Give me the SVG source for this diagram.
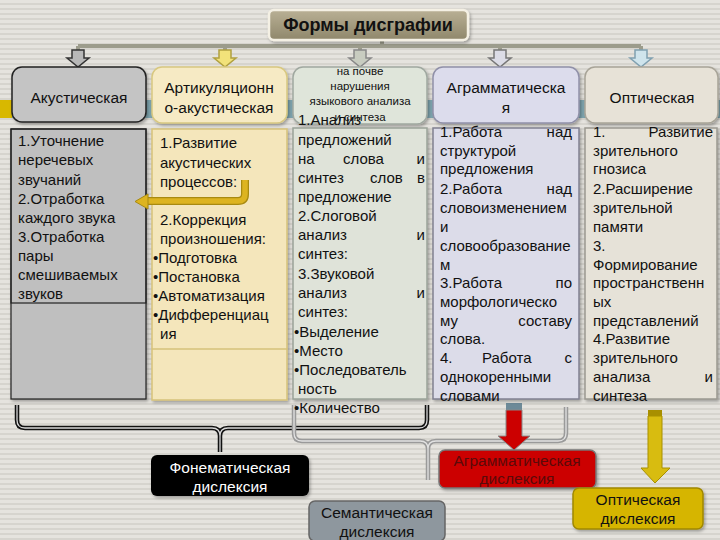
<svg xmlns="http://www.w3.org/2000/svg" width="720" height="540" viewBox="0 0 720 540">
<defs>
<pattern id="stripes" width="8" height="5" patternUnits="userSpaceOnUse">
<rect width="8" height="5" fill="#e5e3de"/>
<rect y="3" width="8" height="2" fill="#d6d4ce"/>
</pattern>
<linearGradient id="titleG" x1="0" y1="0" x2="0" y2="1">
<stop offset="0" stop-color="#b9b095"/>
<stop offset="1" stop-color="#8f876b"/>
</linearGradient>
<filter id="sh" x="-10%" y="-10%" width="130%" height="130%">
<feDropShadow dx="1.5" dy="2" stdDeviation="1.5" flood-color="#000" flood-opacity="0.3"/>
</filter>
<style>
.t{font-family:"Liberation Sans",Arial,sans-serif;font-size:15px;fill:#111}
.h{font-family:"Liberation Sans",Arial,sans-serif;font-size:15.5px;fill:#111;text-anchor:middle}
.s{font-family:"Liberation Sans",Arial,sans-serif;font-size:11.5px;fill:#111;text-anchor:middle}
.e{text-anchor:end}
.b{font-family:"Liberation Sans",Arial,sans-serif;font-size:15.5px;text-anchor:middle}
.arr{stroke-width:1.5;stroke-linejoin:miter}
</style>
</defs>
<rect width="720" height="540" fill="url(#stripes)"/>

<!-- band behind header row -->
<rect x="0" y="100" width="12" height="18" fill="#d8b800"/>
<rect x="12" y="100" width="708" height="18" fill="#7fa6b0"/>

<!-- connectors -->
<g id="connectors">
<path d="M382 40 V46 M78 46 H641 M78 46 V51 M225 46 V51 M360 46 V51 M500 46 V51 M641 46 V51" fill="none" stroke="#9c9c8c" stroke-width="4"/>
<path class="arr" d="M72 50 H84 V58 H89 L78 67 L67 58 H72 Z" fill="#b8b8b8" stroke="#333"/>
<path class="arr" d="M219 50 H231 V58 H236 L225 67 L214 58 H219 Z" fill="#f2e27a" stroke="#b0a040"/>
<path class="arr" d="M354 50 H366 V58 H371 L360 67 L349 58 H354 Z" fill="#c8ccc0" stroke="#888"/>
<path class="arr" d="M494 50 H506 V58 H511 L500 67 L489 58 H494 Z" fill="#dcdce6" stroke="#777"/>
<path class="arr" d="M635 50 H647 V58 H652 L641 67 L630 58 H635 Z" fill="#cfe4ec" stroke="#80a0b0"/>
<!-- braces -->
<path d="M17 405 V420 Q17 428 25 428 H212 Q220 428 220 436 V452 M220 436 Q220 428 228 428 H419 Q427 428 427 420 V405" fill="none" stroke="#111" stroke-width="4.5"/>
<path d="M17 405 V420 Q17 428 25 428 H212 Q220 428 220 436 V452 M220 436 Q220 428 228 428 H419 Q427 428 427 420 V405" fill="none" stroke="#d8d8d8" stroke-width="1.3"/>
<path d="M294 405 V433 Q294 441 302 441 H420 Q428 441 428 449 V480 M428 449 Q428 441 436 441 H558 Q566 441 566 433 V407" fill="none" stroke="#9a9a9a" stroke-width="4.5"/>
<path d="M294 405 V433 Q294 441 302 441 H420 Q428 441 428 449 V480 M428 449 Q428 441 436 441 H558 Q566 441 566 433 V407" fill="none" stroke="#e2e2e2" stroke-width="1.3"/>
<!-- red arrow -->
<rect x="506" y="403" width="16" height="7" fill="#6d8a98"/>
<path d="M506 410 H522 V436 H530 L514 450 L498 436 H506 Z" fill="#cc0000" stroke="#888" stroke-width="1"/>
<!-- yellow arrow -->
<rect x="648" y="410" width="14" height="6" fill="#a88f00"/>
<path d="M648 416 H662 V468 H670 L655 483 L641 468 H648 Z" fill="#d8bc10" stroke="#a89000" stroke-width="1"/>
</g>

<!-- title -->
<g id="title">
<rect x="269" y="10" width="199" height="30" rx="5" fill="url(#titleG)" stroke="#f4f0e4" stroke-width="2.5" filter="url(#sh)"/>
<text x="368" y="31" text-anchor="middle" font-family="Liberation Sans, Arial, sans-serif" font-size="18" font-weight="bold" fill="#111">Формы дисграфии</text>
</g>

<!-- header boxes -->
<g id="h1">
<rect x="12" y="67" width="134" height="55" rx="10" fill="#c4c4c4" stroke="#222" stroke-width="1.5" filter="url(#sh)"/>
<text class="h" x="79" y="103">Акустическая</text>
</g>
<g id="h2">
<rect x="152" y="67" width="135" height="56" rx="10" fill="#f6eac4" stroke="#d8c880" stroke-width="1.5" filter="url(#sh)"/>
<text class="h" x="219" y="93">Артикуляционн</text>
<text class="h" x="219" y="113">о-акустическая</text>
</g>
<g id="h3">
<rect x="293" y="67" width="134" height="57" rx="10" fill="#dfe5da" stroke="#a0a8a0" stroke-width="1.5" filter="url(#sh)"/>
<text class="s" x="360" y="75">на почве</text>
<text class="s" x="360" y="90">нарушения</text>
<text class="s" x="360" y="105">языкового анализа</text>
<text class="s" x="360" y="121">и синтеза</text>
</g>
<g id="h4">
<rect x="433" y="67" width="146" height="56" rx="10" fill="#dcdcec" stroke="#9090a8" stroke-width="1.5" filter="url(#sh)"/>
<text class="h" x="506" y="93">Аграмматическа</text>
<text class="h" x="506" y="113">я</text>
</g>
<g id="h5">
<rect x="585" y="67" width="133" height="56" rx="10" fill="#e7e2d7" stroke="#a8a498" stroke-width="1.5" filter="url(#sh)"/>
<text class="h" x="652" y="103">Оптическая</text>
</g>

<!-- content box 1 -->
<g id="c1">
<rect x="11" y="129" width="135" height="270" fill="#bfbfbf" stroke="#222" stroke-width="1.2" filter="url(#sh)"/>
<rect x="11" y="129" width="135" height="174" fill="none" stroke="#222" stroke-width="1.2"/>
<text class="t" x="18" y="146">1.Уточнение</text>
<text class="t" x="18" y="165">неречевых</text>
<text class="t" x="18" y="185">звучаний</text>
<text class="t" x="18" y="204">2.Отработка</text>
<text class="t" x="18" y="223">каждого звука</text>
<text class="t" x="18" y="242">3.Отработка</text>
<text class="t" x="18" y="261">пары</text>
<text class="t" x="18" y="280">смешиваемых</text>
<text class="t" x="18" y="299">звуков</text>
</g>

<!-- content box 2 -->
<g id="c2">
<rect x="152" y="129" width="135" height="271" fill="#f4e6bb" stroke="#d6c27a" stroke-width="1.5" filter="url(#sh)"/>
<line x1="152" y1="349" x2="287" y2="349" stroke="#d6c27a" stroke-width="1.5"/>
<text class="t" x="160" y="148">1.Развитие</text>
<text class="t" x="160" y="168">акустических</text>
<text class="t" x="160" y="187">процессов:</text>
<text class="t" x="160" y="225">2.Коррекция</text>
<text class="t" x="160" y="244">произношения:</text>
<text class="t" x="153" y="263">•Подготовка</text>
<text class="t" x="153" y="282">•Постановка</text>
<text class="t" x="153" y="301">•Автоматизация</text>
<text class="t" x="153" y="320">•Дифференциац</text>
<text class="t" x="160" y="339">ия</text>
</g>

<!-- curved yellow arrow -->
<g id="curved-arrow">
<path d="M245 180 V194 Q245 201 238 201 H146" fill="none" stroke="#a88a10" stroke-width="8"/>
<path d="M245 180 V194 Q245 201 238 201 H146" fill="none" stroke="#ddb420" stroke-width="5.5"/>
<path d="M148 194 L135 201.5 L148 209 Z" fill="#ddb420" stroke="#a88a10" stroke-width="1"/>
</g>

<!-- content box 3 -->
<g id="c3">
<rect x="293" y="128" width="134" height="271" fill="#dfe3d9" stroke="#9aa398" stroke-width="1.5" filter="url(#sh)"/>
<text class="t" x="298" y="125">1.Анализ</text>
<text class="t" x="298" y="145">предложений</text>
<text class="t" x="298" y="164">на</text><text class="t" x="343" y="164">слова</text><text class="t e" x="425" y="164">и</text>
<text class="t" x="298" y="183">синтез</text><text class="t" x="370" y="183">слов</text><text class="t e" x="425" y="183">в</text>
<text class="t" x="298" y="202">предложение</text>
<text class="t" x="298" y="221">2.Слоговой</text>
<text class="t" x="298" y="240">анализ</text><text class="t e" x="425" y="240">и</text>
<text class="t" x="298" y="259">синтез:</text>
<text class="t" x="298" y="279">3.Звуковой</text>
<text class="t" x="298" y="298">анализ</text><text class="t e" x="425" y="298">и</text>
<text class="t" x="298" y="317">синтез:</text>
<text class="t" x="294" y="337">•Выделение</text>
<text class="t" x="294" y="356">•Место</text>
<text class="t" x="294" y="375">•Последователь</text>
<text class="t" x="298" y="394">ность</text>
<text class="t" x="294" y="413">•Количество</text>
</g>

<!-- content box 4 -->
<g id="c4">
<rect x="433" y="128" width="146" height="271" fill="#dcdce9" stroke="#808090" stroke-width="1.5" filter="url(#sh)"/>
<text class="t" x="440" y="137">1.Работа</text><text class="t e" x="572" y="137">над</text>
<text class="t" x="440" y="156">структурой</text>
<text class="t" x="440" y="174">предложения</text>
<text class="t" x="440" y="194">2.Работа</text><text class="t e" x="572" y="194">над</text>
<text class="t" x="440" y="213">словоизменением</text>
<text class="t" x="440" y="232">и</text>
<text class="t" x="440" y="251">словообразование</text>
<text class="t" x="440" y="270">м</text>
<text class="t" x="440" y="288">3.Работа</text><text class="t e" x="572" y="288">по</text>
<text class="t" x="440" y="307">морфологическо</text>
<text class="t" x="440" y="326">му</text><text class="t e" x="572" y="326">составу</text>
<text class="t" x="440" y="344">слова.</text>
<text class="t" x="440" y="363">4.</text><text class="t" x="482" y="363">Работа</text><text class="t e" x="572" y="363">с</text>
<text class="t" x="440" y="382">однокоренными</text>
<text class="t" x="440" y="401">словами</text>
</g>

<!-- content box 5 -->
<g id="c5">
<rect x="585" y="128" width="132" height="271" fill="#e6e2d8" stroke="#9a9890" stroke-width="1.5" filter="url(#sh)"/>
<text class="t" x="593" y="137">1.</text><text class="t e" x="713" y="137">Развитие</text>
<text class="t" x="593" y="156">зрительного</text>
<text class="t" x="593" y="174">гнозиса</text>
<text class="t" x="593" y="194">2.Расширение</text>
<text class="t" x="593" y="213">зрительной</text>
<text class="t" x="593" y="232">памяти</text>
<text class="t" x="593" y="251">3.</text>
<text class="t" x="593" y="270">Формирование</text>
<text class="t" x="593" y="288">пространственн</text>
<text class="t" x="593" y="307">ых</text>
<text class="t" x="593" y="326">представлений</text>
<text class="t" x="593" y="344">4.Развитие</text>
<text class="t" x="593" y="363">зрительного</text>
<text class="t" x="593" y="382">анализа</text><text class="t e" x="713" y="382">и</text>
<text class="t" x="593" y="401">синтеза</text>
</g>

<!-- result boxes -->
<g id="r1">
<rect x="151" y="455" width="158" height="41" rx="6" fill="#000" filter="url(#sh)"/>
<text class="b" x="230" y="473" fill="#fff">Фонематическая</text>
<text class="b" x="230" y="492" fill="#fff">дислексия</text>
</g>
<g id="r2">
<rect x="309" y="501" width="136" height="40" rx="6" fill="#8e979e" stroke="#666" stroke-width="1.5"/>
<text class="b" x="377" y="518" fill="#111">Семантическая</text>
<text class="b" x="377" y="537" fill="#111">дислексия</text>
</g>
<g id="r3">
<rect x="439" y="450" width="157" height="38" rx="6" fill="#cc0000" stroke="#777" stroke-width="1.5" filter="url(#sh)"/>
<text class="b" x="517" y="466" fill="#5a0a0a">Аграмматическая</text>
<text class="b" x="517" y="484" fill="#5a0a0a">дислексия</text>
</g>
<g id="r4">
<rect x="573" y="488" width="130" height="41" rx="6" fill="#d6b500" stroke="#a08800" stroke-width="1.5" filter="url(#sh)"/>
<text class="b" x="638" y="505" fill="#111">Оптическая</text>
<text class="b" x="638" y="524" fill="#111">дислексия</text>
</g>
</svg>
